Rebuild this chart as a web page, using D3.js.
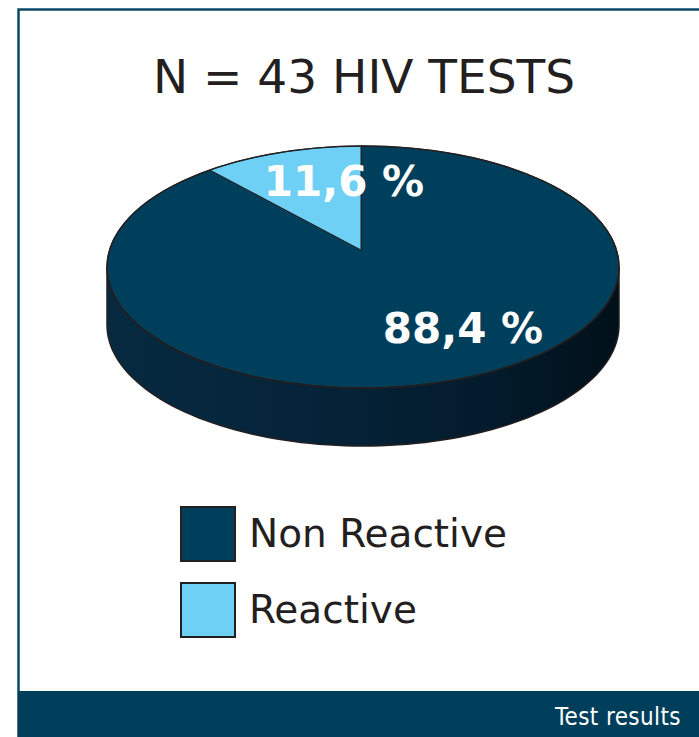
<!DOCTYPE html>
<html>
<head>
<meta charset="utf-8">
<script src="https://cdn.jsdelivr.net/npm/d3@7"></script>
<style>
  body { margin: 0; background: #fff; }
  svg { display: block; }
</style>
</head>
<body>
<div class="chart"></div>
<script>
// chart data
var categories = ['Non Reactive', 'Reactive'];
var values = [88.4, 11.6];
var valueLabels = ['88,4 %', '11,6 %'];
var title = 'N = 43 HIV TESTS';
var footer = 'Test results';

var width = 699, height = 737;
var cx = 363, cy = 267, rx = 256, ry = 121, depth = 58;
var vx = 361, vy = 250; // apex of the slices (perspective centre)

var color = d3.scaleOrdinal().domain(categories).range(['#003f5b', '#6fd0f6']);

var svg = d3.select('.chart')
    .append('svg')
    .attr('width', width)
    .attr('height', height);

// frame
svg.append('path')
    .attr('d', 'M18.5 ' + height + ' L18.5 9.5 L' + width + ' 9.5')
    .attr('fill', 'none')
    .attr('stroke', '#0b4867')
    .attr('stroke-width', 2.5);

svg.append('rect')
    .attr('x', 18).attr('y', 691)
    .attr('width', width - 18).attr('height', height - 691)
    .attr('fill', '#003f5b');

svg.append('text')
    .attr('x', 681).attr('y', 725)
    .attr('text-anchor', 'end')
    .attr('fill', '#fff')
    .style('font-family', '"DejaVu Sans Condensed", "DejaVu Sans", sans-serif')
    .style('font-size', '24px')
    .style('letter-spacing', '0.4px')
    .text(footer);

svg.append('text')
    .attr('x', 364).attr('y', 93)
    .attr('text-anchor', 'middle')
    .attr('fill', '#231f20')
    .style('font-family', '"DejaVu Sans", Verdana, sans-serif')
    .style('font-size', '47px')
    .text(title);

// side gradient
var grad = svg.append('defs').append('linearGradient')
    .attr('id', 'side')
    .attr('gradientUnits', 'userSpaceOnUse')
    .attr('x1', cx - rx).attr('x2', cx + rx).attr('y1', 0).attr('y2', 0);
grad.append('stop').attr('offset', '0%').attr('stop-color', '#072a41');
grad.append('stop').attr('offset', '35%').attr('stop-color', '#05243a');
grad.append('stop').attr('offset', '75%').attr('stop-color', '#031b2c');
grad.append('stop').attr('offset', '100%').attr('stop-color', '#011019');

// point on the rim reached from the apex at pie angle a
function rim(a) {
    var dx = Math.sin(a) * rx, dy = -Math.cos(a) * ry;
    var ox = (vx - cx) / rx, oy = (vy - cy) / ry;
    var ux = dx / rx, uy = dy / ry;
    var A = ux * ux + uy * uy, B = 2 * (ox * ux + oy * uy), C = ox * ox + oy * oy - 1;
    var t = (-B + Math.sqrt(B * B - 4 * A * C)) / (2 * A);
    return [vx + dx * t, vy + dy * t];
}

var line = d3.line();

// front side of the cylinder
var side = [];
var k;
for (k = 0; k <= 90; k++) {
    var p = Math.PI * k / 90;
    side.push([cx + rx * Math.cos(p), cy + ry * Math.sin(p)]);
}
for (k = 90; k >= 0; k--) {
    var q = Math.PI * k / 90;
    side.push([cx + rx * Math.cos(q), cy + depth + ry * Math.sin(q)]);
}
svg.append('path')
    .attr('d', line(side) + 'Z')
    .attr('fill', 'url(#side)')
    .attr('stroke', '#231f20')
    .attr('stroke-width', 1.5);

// top slices
var pie = d3.pie().sort(null).value(function (d) { return d; });
var arcs = pie(values);

svg.selectAll('.slice').data(arcs).enter()
    .append('path')
    .attr('class', 'slice')
    .attr('d', function (d) {
        var pts = [[vx, vy]];
        var n = Math.max(2, Math.ceil((d.endAngle - d.startAngle) / 0.02));
        for (var j = 0; j <= n; j++) {
            pts.push(rim(d.startAngle + (d.endAngle - d.startAngle) * j / n));
        }
        return line(pts) + 'Z';
    })
    .attr('fill', function (d, i) { return color(categories[i]); })
    .attr('stroke', '#231f20')
    .attr('stroke-width', 1)
    .attr('stroke-linejoin', 'round');

// rim outline
svg.append('ellipse')
    .attr('cx', cx).attr('cy', cy)
    .attr('rx', rx).attr('ry', ry)
    .attr('fill', 'none')
    .attr('stroke', '#231f20')
    .attr('stroke-width', 1.5);

// value labels
var labelOffset = [[100, 76], [-19, -71]];
svg.selectAll('.value-label').data(arcs).enter()
    .append('text')
    .attr('class', 'value-label')
    .attr('x', function (d, i) { return cx + labelOffset[i][0]; })
    .attr('y', function (d, i) { return cy + labelOffset[i][1]; })
    .attr('text-anchor', 'middle')
    .attr('fill', '#fff')
    .style('font-family', '"DejaVu Sans", Verdana, sans-serif')
    .style('font-weight', 'bold')
    .style('font-size', '42px')
    .text(function (d, i) { return valueLabels[i]; });

// legend
var legend = svg.selectAll('.legend').data(categories).enter()
    .append('g')
    .attr('class', 'legend')
    .attr('transform', function (d, i) { return 'translate(181,' + (507 + i * 76) + ')'; });

legend.append('rect')
    .attr('width', 54).attr('height', 54)
    .attr('fill', function (d) { return color(d); })
    .attr('stroke', '#231f20')
    .attr('stroke-width', 2);

legend.append('text')
    .attr('x', 68).attr('y', 40)
    .attr('fill', '#231f20')
    .style('font-family', '"DejaVu Sans", Verdana, sans-serif')
    .style('font-size', '39px')
    .text(function (d) { return d; });
</script>
</body>
</html>
